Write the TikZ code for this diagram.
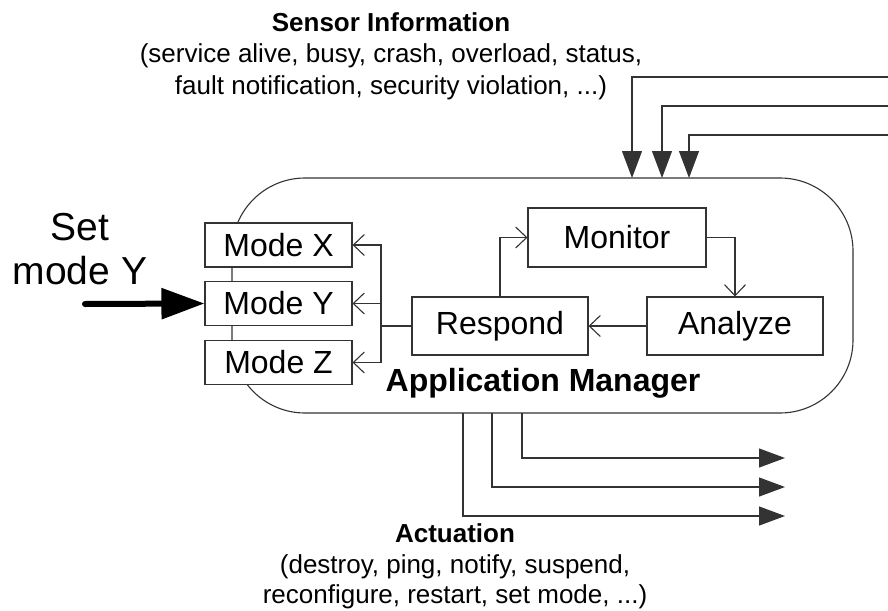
\documentclass[tikz,border=0pt]{standalone}
\usepackage{fontspec}
\setmainfont{Liberation Sans}
\usetikzlibrary{arrows.meta}
\begin{document}
\begin{tikzpicture}[x=1pt,y=-1pt]
\tikzset{
  wire/.style={draw=black!80, line width=1.1pt},
  box/.style={wire, fill=white, inner sep=0pt, text=black,
    font=\fontsize{32}{36}\selectfont},
  barb/.style={wire, -{Straight Barb[length=11pt,width=21pt,line width=1.1pt]}},
  inarrow/.style={wire, -{Triangle[length=27pt,width=20pt]}},
  outarrow/.style={wire, -{Triangle[length=26pt,width=19pt]}},
  caption/.style={anchor=base, inner sep=0pt, font=\fontsize{26}{31}\selectfont},
  captitle/.style={caption, font=\fontsize{26}{31}\selectfont\bfseries},
  bigtext/.style={anchor=base, inner sep=0pt, font=\fontsize{39}{44}\selectfont},
}
\useasboundingbox (0,0) rectangle (888,610);

% manager container; its left side shows between the mode boxes
\node[wire, rounded corners=73pt, minimum width=621pt, minimum height=235pt,
      inner sep=0pt] (am) at (542.5,295.5) {};
\node[anchor=base, inner sep=0pt, font=\fontsize{32}{36}\selectfont\bfseries]
      (amlbl) at (543,391) {Application Manager};

% mode boxes
\node[box, minimum width=147pt, minimum height=44pt] (mx) at (278.5,245)   {Mode X};
\node[box, minimum width=147pt, minimum height=44pt] (my) at (278.5,303.5) {Mode Y};
\node[box, minimum width=147pt, minimum height=44pt] (mz) at (278.5,362.5) {Mode Z};

% control loop
\node[box, minimum width=176pt, minimum height=58pt] (rs) at (500,326)   {Respond};
\node[box, minimum width=178pt, minimum height=59pt] (mo) at (617,237.5) {Monitor};
\node[box, minimum width=176pt, minimum height=58pt] (an) at (735,326)   {Analyze};
\draw[barb] (mo.east) -| (an.north);
\draw[barb] (an.west) -- (rs.east);
\draw[barb] (rs.north) |- (mo.west);

% respond fans out to the modes
\coordinate (split) at (381,326);
\draw[wire, line width=2pt] (rs.west) -- (split);
\draw[barb] (split) |- (mx.east);
\draw[barb] (split) |- (my.east);
\draw[barb] (split) |- (mz.east);

% external mode request
\node[bigtext] (setlbl) at (80,240) {Set};
\node[bigtext] (modelbl) at (80,284) {mode Y};
\coordinate (setin) at (85,304);
\draw[draw=black, line width=6pt, line cap=round,
      -{Triangle[length=43pt,width=30pt]}] (setin) -- (my.west);

% sensor inputs
\coordinate (s1) at (888,77);
\coordinate (s2) at (888,106);
\coordinate (s3) at (888,135);
\coordinate (t1) at (632,178);
\coordinate (t2) at (662,178);
\coordinate (t3) at (689,178);
\draw[inarrow] (s1) -| (t1);
\draw[inarrow] (s2) -| (t2);
\draw[inarrow] (s3) -| (t3);
\node[captitle] (sensT) at (391,32) {Sensor Information};
\node[caption]  (sens1) at (391,63) {(service alive, busy, crash, overload, status,};
\node[caption]  (sens2) at (391,94) {fault notification, security violation, ...)};

% actuation outputs
\coordinate (b1) at (463,413);
\coordinate (b2) at (492,413);
\coordinate (b3) at (522,413);
\coordinate (e1) at (785,516);
\coordinate (e2) at (785,487);
\coordinate (e3) at (785,458);
\draw[outarrow] (b1) |- (e1);
\draw[outarrow] (b2) |- (e2);
\draw[outarrow] (b3) |- (e3);
\node[captitle] (actT) at (455,542) {Actuation};
\node[caption]  (act1) at (455,573) {(destroy, ping, notify, suspend,};
\node[caption]  (act2) at (455,603) {reconfigure, restart, set mode, ...)};
\end{tikzpicture}
\end{document}
